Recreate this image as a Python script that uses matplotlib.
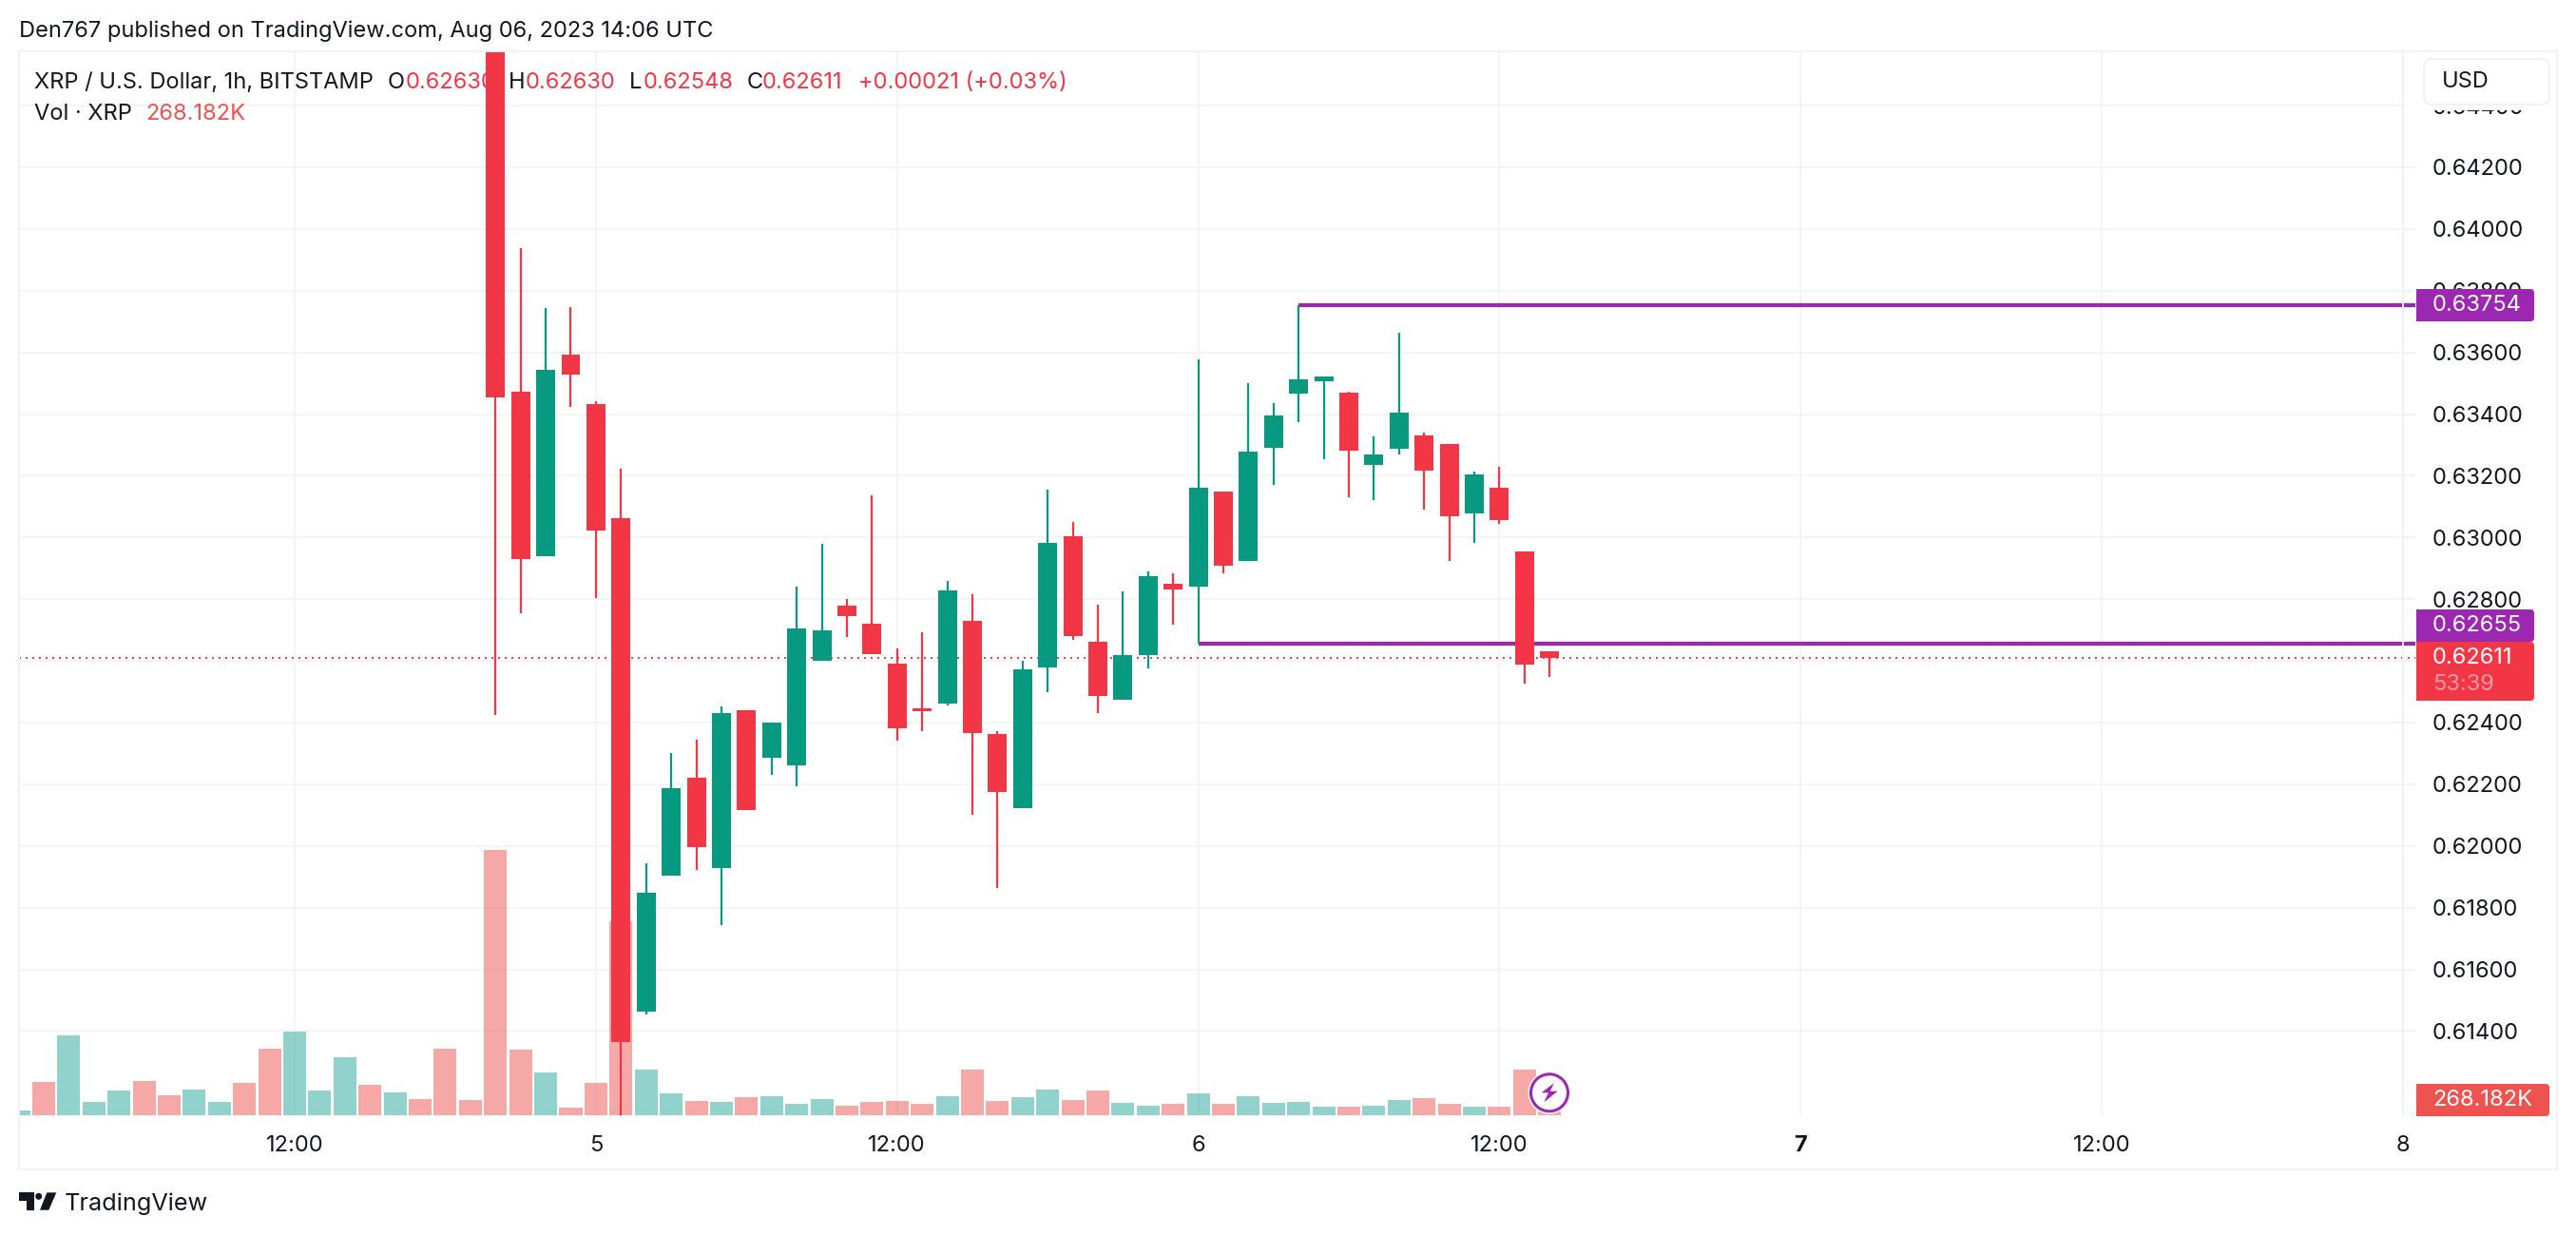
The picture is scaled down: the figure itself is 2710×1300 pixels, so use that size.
import matplotlib
matplotlib.use('Agg')
import matplotlib.pyplot as plt
from matplotlib.patches import Rectangle, FancyBboxPatch, Circle, Polygon
from matplotlib.transforms import Affine2D

plt.rcParams['font.family'] = ['Inter', 'DejaVu Sans']

# hours counted from Aug 4 00:00, volume in thousands of XRP
vol_hours = list(range(1, 63))
volumes = [350, 2600, 6275, 1025, 1925, 2675, 1550, 2000, 1025, 2525,
           5225, 6575, 1925, 4550, 2375, 1775, 1250, 5225, 1175, 20900,
           5150, 3350, 575, 2525, 15275, 3575, 1700, 1100, 1025, 1400,
           1475, 875, 1250, 725, 1025, 1100, 875, 1475, 3575, 1100,
           1400, 2000, 1175, 1925, 950, 725, 875, 1700, 875, 1475,
           950, 1025, 650, 650, 725, 1175, 1325, 875, 650, 650,
           3575, 268.182]
vol_up = [1, 0, 1, 1, 1, 0, 0, 1, 1, 0,
          0, 1, 1, 1, 0, 1, 0, 0, 0, 0,
          0, 1, 0, 0, 0, 1, 1, 0, 1, 0,
          1, 1, 1, 0, 0, 0, 0, 1, 0, 0,
          1, 1, 0, 0, 1, 1, 0, 1, 0, 1,
          1, 1, 1, 0, 1, 1, 0, 0, 1, 0,
          0, 0]

hours = list(range(20, 63))
opens = [.65200, .63473, .62940, .63593, .63431, .63062, .61463, .61905, .62221, .61927,
         .62441, .62286, .62262, .62600, .62779, .62720, .62591, .62447, .62461, .62730,
         .62363, .62123, .62579, .63003, .62661, .62473, .62619, .62850, .62840, .63148,
         .62923, .63290, .63466, .63506, .63469, .63235, .63287, .63330, .63302, .63077,
         .63161, .62954, .62630]
highs = [.65400, .63938, .63744, .63746, .63441, .63223, .61944, .62302, .62345, .62453,
         .62441, .62400, .62840, .62980, .62801, .63137, .62640, .62693, .62860, .62817,
         .62372, .62600, .63154, .63050, .62783, .62825, .62890, .62883, .63576, .63148,
         .63499, .63437, .63754, .63521, .63472, .63327, .63665, .63339, .63302, .63213,
         .63228, .62954, .62630]
lows = [.62424, .62754, .62940, .63424, .62805, .61127, .61455, .61905, .61923, .61742,
        .62117, .62231, .62194, .62600, .62677, .62622, .62341, .62372, .62455, .62101,
        .61864, .62123, .62498, .62669, .62431, .62473, .62575, .62716, .62655, .62883,
        .62923, .63170, .63373, .63253, .63129, .63121, .63268, .63089, .62923, .62982,
        .63044, .62525, .62548]
closes = [.63455, .62930, .63543, .63528, .63023, .61365, .61848, .62188, .61997, .62431,
          .62117, .62400, .62705, .62699, .62746, .62622, .62382, .62437, .62828, .62367,
          .62176, .62573, .62982, .62681, .62486, .62619, .62875, .62833, .63161, .62908,
          .63278, .63397, .63514, .63521, .63283, .63268, .63404, .63216, .63068, .63203,
          .63056, .62587, .62611]

price_ticks = [.614, .616, .618, .620, .622, .624, .626, .628, .630, .632,
               .634, .636, .638, .640, .642, .644]
time_ticks = [12, 24, 36, 48, 60, 72, 84, 96]
time_labels = ['12:00', '5', '12:00', '6', '12:00', '7', '12:00', '8']

res_level = 0.63754
res_start = 52
sup_level = 0.62655
sup_start = 48
last_price = 0.62611

red = '#f23645'
green = '#089981'
vol_red = '#ef5350'
vol_green = '#26a69a'
purple = '#9c27b0'
ink = '#131722'
line_col = '#f1f2f5'
FS = 17

W, H = 2710, 1300
fig = plt.figure(figsize=(W / 100, H / 100), dpi=100, facecolor='white')
# pixel coords, origin top left, for the page furniture
px = Affine2D().scale(1, -1).translate(0, H)

ax = fig.add_axes([20 / W, 1 - 1173 / H, (2528 - 20) / W, (1173 - 54) / H])
ax.set_facecolor('none')
for s in ['left', 'top', 'bottom']:
    ax.spines[s].set_visible(False)
ax.spines['right'].set_color(line_col)
ax.spines['right'].set_linewidth(1.4)

ax.set_axisbelow(True)
ax.yaxis.tick_right()
ax.set_yticks(price_ticks)
ax.set_yticklabels(['%.5f' % p for p in price_ticks], fontsize=FS, color=ink)
ax.set_xticks(time_ticks)
ax.set_xticklabels(time_labels, fontsize=FS, color=ink)
ax.get_xticklabels()[5].set_fontweight('bold')
ax.tick_params(axis='y', length=9.4, width=1.4, color=line_col, pad=13)
ax.tick_params(axis='x', length=0, pad=15)
ax.grid(axis='y', color='#f3f4f7', lw=1.4)
ax.grid(axis='x', color='#f1f2f5', lw=1.2)

# volume sits at the foot of the pane, scaled on its own
vol_top = 83925.0
for t, v, u in zip(vol_hours, volumes, vol_up):
    ax.bar(t, v / vol_top, width=0.91, bottom=0, color=vol_green if u else vol_red, alpha=0.5,
           linewidth=0, transform=ax.get_xaxis_transform(), zorder=1)

ax.hlines(res_level, res_start, 96.5, color=purple, lw=3.0, zorder=2, clip_on=False)
ax.hlines(sup_level, sup_start, 96.5, color=purple, lw=3.0, zorder=2, clip_on=False)
ax.hlines(last_price, 1, 96.5, color=red, lw=1.4, linestyles=(0, (1, 2.6)), zorder=2, clip_on=False)

for t, o, h, l, c in zip(hours, opens, highs, lows, closes):
    col = green if c > o else red
    ax.vlines(t, l, h, color=col, lw=1.6, zorder=3)
    ax.bar(t, abs(c - o), width=0.757, bottom=min(o, c), color=col, linewidth=0, zorder=3)

ax.set_xlim(1.015, 96)
ax.set_ylim(0.61127, 0.64576)


def label(x, y, s, **kw):
    kw.setdefault('fontsize', FS)
    kw.setdefault('color', ink)
    kw.setdefault('va', 'center')
    return ax.text(x, y, s, transform=px, zorder=2.5, **kw)


label(20, 33, 'Den767 published on TradingView.com, Aug 06, 2023 14:06 UTC')
label(36, 87, 'XRP / U.S. Dollar, 1h, BITSTAMP')
for x, s in [(408, 'O'), (535, 'H'), (662, 'L'), (786, 'C')]:
    label(x, 87, s)
for x, s in [(427, '0.62630'), (553, '0.62630'), (677, '0.62548'), (802, '0.62611'),
             (903, '+0.00021 (+0.03%)')]:
    label(x, 87, s, color=red)
label(36, 120, 'Vol · XRP')
label(153, 120, '268.182K', color=vol_red)
label(68, 1266, 'TradingView', fontsize=18.2)

# outer frame
fig.add_artist(Rectangle((20, 54), 2670, 1176, fill=False, ec=line_col, lw=1.4, transform=px, zorder=1))

# the USD button hides the top of the scale
fig.add_artist(Rectangle((2530, 55), 158, 61, fc='white', ec='none', transform=px, zorder=4))
fig.add_artist(FancyBboxPatch((2550, 62), 132, 48, boxstyle='round,pad=0,rounding_size=9', fc='white',
                              ec=line_col, lw=1.4, transform=px, zorder=5))
fig.text(2569, 86, 'USD', fontsize=FS, color=ink, va='center', transform=px, zorder=6)


def price_tag(y0, y1, color, x1=2666):
    fig.add_artist(FancyBboxPatch((2542, y0), x1 - 2542, y1 - y0, boxstyle='round,pad=0,rounding_size=4',
                                  fc=color, ec='none', transform=px, zorder=5))
    fig.add_artist(Rectangle((2542, y0), 20, y1 - y0, fc=color, ec='none', transform=px, zorder=5))


def tag_text(x, y, s, color='white'):
    fig.text(x, y, s, fontsize=FS, color=color, va='center', transform=px, zorder=6)


price_tag(304, 338, purple)
tag_text(2559, 321, '%.5f' % res_level)
price_tag(641, 675, purple)
tag_text(2559, 658, '%.5f' % sup_level)
price_tag(675, 737, red)
tag_text(2559, 692, '%.5f' % last_price)
tag_text(2559, 720, '53:39', color='#fb9aa3')
price_tag(1140, 1174, vol_red, x1=2682)
tag_text(2559, 1157, '268.182K')

# lightning marker
fig.add_artist(Circle((1630, 1149.3), 22.5, fc='white', ec='none', transform=px, zorder=5))
fig.add_artist(Circle((1630, 1149.3), 19.5, fc='white', ec=purple, lw=2.2, transform=px, zorder=5))
fig.add_artist(Polygon([(1635, 1139), (1621.7, 1149.3), (1629, 1149.3), (1624.3, 1159.3),
                        (1638.7, 1147.7), (1630.7, 1147.7)], fc=purple, ec='none', transform=px, zorder=6))

# TradingView logo
logo_col = '#131722'
fig.add_artist(Polygon([(20, 1254.3), (35.7, 1254.3), (35.7, 1272.7), (28.3, 1272.7), (28.3, 1262.7), (20, 1262.7)],
                       fc=logo_col, ec='none', transform=px, zorder=6))
fig.add_artist(Circle((40.7, 1258.3), 3.5, fc=logo_col, ec='none', transform=px, zorder=6))
fig.add_artist(Polygon([(49.3, 1254.3), (59.3, 1254.3), (51.3, 1272.7), (42, 1272.7)],
                       fc=logo_col, ec='none', transform=px, zorder=6))

fig.savefig('out.png', dpi=100, facecolor='white')
